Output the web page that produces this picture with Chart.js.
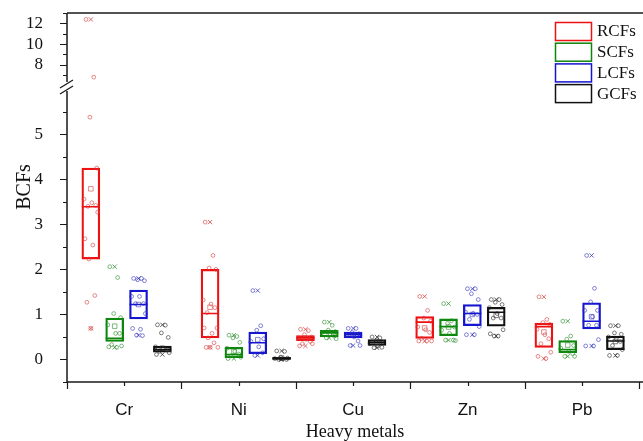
<!DOCTYPE html>
<html>
<head>
<meta charset="UTF-8" />
<title>BCFs of heavy metals</title>
<style>
  html, body { margin: 0; padding: 0; background: #fff; overflow: hidden; }
  #wrap { width: 643px; height: 441px; }
</style>
</head>
<body>
<div id="wrap"><canvas id="myCanvas"></canvas></div>
<script src="https://cdn.jsdelivr.net/npm/chart.js@4/dist/chart.umd.min.js"></script>
<script>
const metals = ["Cr", "Ni", "Cu", "Zn", "Pb"];
const seriesNames = ["RCFs", "SCFs", "LCFs", "GCFs"];

// one row per series (RCFs, SCFs, LCFs, GCFs), one value per metal
const boxLow = [
  [2.23, 0.48, 0.42, 0.47, 0.27],
  [0.40, 0.04, 0.50, 0.53, 0.15],
  [0.90, 0.13, 0.48, 0.75, 0.68],
  [0.16, 0.00, 0.31, 0.74, 0.22]
];
const boxMedian = [
  [3.39, 1.02, 0.48, 0.83, 0.73],
  [0.47, 0.11, 0.59, 0.73, 0.22],
  [1.22, 0.37, 0.55, 1.02, 0.85],
  [0.22, 0.02, 0.38, 1.05, 0.41]
];
const boxHigh = [
  [4.25, 2.00, 0.53, 0.95, 0.81],
  [0.92, 0.27, 0.65, 0.90, 0.42],
  [1.54, 0.61, 0.61, 1.22, 1.26],
  [0.30, 0.05, 0.44, 1.16, 0.52]
];
const meanValues = [
  [3.79, 1.16, 0.47, 0.70, 0.61],
  [0.74, 0.18, 0.58, 0.72, 0.32],
  [1.22, 0.44, 0.55, 1.00, 0.95],
  [0.25, 0.03, 0.38, 0.98, 0.40]
];
const minValues = [
  [0.69, 0.27, 0.30, 0.41, 0.02],
  [0.27, 0.02, 0.48, 0.43, 0.07],
  [0.54, 0.09, 0.31, 0.55, 0.30],
  [0.11, 0.00, 0.26, 0.52, 0.09]
];
const maxValues = [
  [12.38, 3.05, 0.67, 1.40, 1.39],
  [2.06, 0.54, 0.83, 1.24, 0.85],
  [1.80, 1.53, 0.69, 1.57, 2.31],
  [0.77, 0.19, 0.50, 1.33, 0.75]
];

// raw samples, per metal
const rcfPoints = [
  [12.38, 6.8, 5.38, 4.25, 3.56, 3.48, 3.42, 3.40, 3.27, 2.68, 2.54, 2.23, 1.42, 1.27, 0.69],
  [3.05, 2.31, 2.03, 2.00, 1.32, 1.23, 1.15, 1.04, 0.70, 0.70, 0.58, 0.48, 0.37, 0.27, 0.27, 0.27],
  [0.67, 0.64, 0.55, 0.50, 0.48, 0.45, 0.40, 0.35, 0.35, 0.30],
  [1.40, 1.09, 0.92, 0.85, 0.72, 0.66, 0.60, 0.47, 0.41, 0.41, 0.41],
  [1.39, 0.89, 0.82, 0.78, 0.67, 0.55, 0.46, 0.35, 0.16, 0.07, 0.02]
];
const scfPoints = [
  [2.06, 1.82, 1.02, 0.93, 0.77, 0.58, 0.58, 0.33, 0.30, 0.28, 0.27],
  [0.54, 0.51, 0.48, 0.38, 0.25, 0.18, 0.12, 0.08, 0.05, 0.02],
  [0.83, 0.76, 0.65, 0.62, 0.60, 0.57, 0.52, 0.48, 0.46],
  [1.24, 0.86, 0.80, 0.72, 0.65, 0.58, 0.43, 0.43, 0.42],
  [0.85, 0.52, 0.45, 0.31, 0.25, 0.18, 0.13, 0.07, 0.07]
];
const lcfPoints = [
  [1.80, 1.80, 1.77, 1.75, 1.40, 1.40, 1.24, 1.24, 1.02, 0.69, 0.67, 0.54, 0.53],
  [1.53, 0.75, 0.65, 0.46, 0.40, 0.28, 0.15, 0.09],
  [0.69, 0.69, 0.60, 0.57, 0.53, 0.50, 0.41, 0.31, 0.31],
  [1.57, 1.57, 1.46, 1.33, 1.05, 1.02, 1.00, 0.89, 0.73, 0.55, 0.55],
  [2.31, 1.58, 1.28, 1.09, 1.09, 0.95, 0.76, 0.76, 0.44, 0.30, 0.30]
];
const gcfPoints = [
  [0.77, 0.76, 0.59, 0.49, 0.28, 0.24, 0.21, 0.18, 0.15, 0.11],
  [0.19, 0.18, 0.05, 0.03, 0.02, 0.01, 0.00, 0.00],
  [0.50, 0.48, 0.42, 0.38, 0.35, 0.30, 0.27, 0.26],
  [1.33, 1.33, 1.27, 1.22, 1.15, 1.02, 0.92, 0.92, 0.66, 0.57, 0.52, 0.52],
  [0.75, 0.75, 0.59, 0.56, 0.50, 0.45, 0.40, 0.31, 0.22, 0.09, 0.09]
];
const allPoints = [rcfPoints, scfPoints, lcfPoints, gcfPoints];

// layout helpers
const colors = ["#ee1111", "#0b870b", "#1515d0", "#111111"];
const pointColors = ["rgba(215,60,60,0.75)", "rgba(40,140,40,0.75)", "rgba(50,50,190,0.75)", "rgba(40,40,40,0.75)"];
const breakAt = 6.05;          // lower panel top / upper panel bottom
const slotWidth = 5 / 24;      // x units between neighbouring boxes
const groupSlot = [0, 5, 9, 14, 19];
const pxPerUnit = 116.6;
const jitter = [-5, 3, -1, 6, -7, 1, 5, -3, 7, -6, 2, -2, 4, -4, 0, 8];

function boxX(m, s) {
  return 0.5 + (groupSlot[m] + s + 1) * slotWidth;
}

const datasets = [];
seriesNames.forEach((name, s) => {
  datasets.push({
    type: "bar",
    label: name,
    data: metals.map((_, m) => ({ x: boxX(m, s), y: [boxLow[s][m], boxHigh[s][m]] })),
    backgroundColor: "rgba(0,0,0,0)",
    borderColor: colors[s],
    borderWidth: 1.6,
    borderSkipped: false,
    barThickness: 18,
    grouped: false,
    yAxisID: "y",
    order: 1
  });
  datasets.push({
    type: "scatter",
    label: name + " median",
    data: metals.map((_, m) => ({ x: boxX(m, s), y: boxMedian[s][m] })),
    pointStyle: "line",
    radius: 9,
    borderColor: colors[s],
    borderWidth: 1.6,
    yAxisID: "y",
    order: 0
  });
  datasets.push({
    type: "scatter",
    label: name + " mean",
    data: metals.map((_, m) => ({ x: boxX(m, s), y: meanValues[s][m] })),
    pointStyle: "rect",
    radius: 3.2,
    borderColor: pointColors[s],
    backgroundColor: "rgba(0,0,0,0)",
    borderWidth: 0.8,
    yAxisID: "y",
    order: 0
  });
  const lower = [], upper = [];
  allPoints[s].forEach((vals, m) => {
    vals.forEach((v, i) => {
      const p = { x: boxX(m, s) + jitter[i % jitter.length] / pxPerUnit, y: v };
      (v > breakAt ? upper : lower).push(p);
    });
  });
  [["y", lower], ["y2", upper]].forEach(([axis, pts]) => {
    datasets.push({
      type: "scatter",
      label: name + " samples",
      data: pts,
      pointStyle: "circle",
      radius: 1.9,
      borderColor: pointColors[s],
      backgroundColor: "rgba(0,0,0,0)",
      borderWidth: 0.8,
      yAxisID: axis,
      order: 0
    });
  });
  const ext = [], extUp = [];
  metals.forEach((_, m) => {
    [minValues[s][m], maxValues[s][m]].forEach(v => {
      (v > breakAt ? extUp : ext).push({ x: boxX(m, s), y: v });
    });
  });
  [["y", ext], ["y2", extUp]].forEach(([axis, pts]) => {
    datasets.push({
      type: "scatter",
      label: name + " min/max",
      data: pts,
      pointStyle: "crossRot",
      radius: 3,
      borderColor: pointColors[s],
      borderWidth: 1,
      yAxisID: axis,
      order: 0
    });
  });
});

const frame = {
  id: "frame",
  beforeDatasetsDraw(chart) {
    const { ctx, chartArea: a, scales } = chart;
    const y = scales.y, y2 = scales.y2, x = scales.x;
    ctx.save();
    ctx.strokeStyle = "#1a1a1a";
    ctx.lineWidth = 1.5;
    ctx.beginPath();
    ctx.moveTo(a.left, a.top); ctx.lineTo(chart.width, a.top);
    ctx.moveTo(a.left, a.top); ctx.lineTo(a.left, a.bottom);
    ctx.lineTo(chart.width, a.bottom);
    ctx.stroke();
    ctx.lineWidth = 1.2;
    ctx.beginPath();
    for (let v = -0.5; v <= 5.5; v += 0.5) {
      const py = Math.round(y.getPixelForValue(v)) + 0.5;
      const len = Number.isInteger(v) ? 7 : 4;
      ctx.moveTo(a.left - len, py); ctx.lineTo(a.left, py);
    }
    for (let v = 7; v <= 13; v++) {
      const py = Math.round(y2.getPixelForValue(v)) + 0.5;
      const len = v % 2 === 0 ? 7 : 4;
      ctx.moveTo(a.left - len, py); ctx.lineTo(a.left, py);
    }
    for (let v = 0.5; v <= 5.5; v += 0.5) {
      const px = Math.round(x.getPixelForValue(v)) + 0.5;
      if (px > chart.width) continue;
      const len = Number.isInteger(v) ? 4 : 7;
      ctx.moveTo(px, a.bottom); ctx.lineTo(px, a.bottom + len);
    }
    ctx.stroke();
    // axis break
    const by = y.top;
    ctx.fillStyle = "#fff";
    ctx.fillRect(a.left - 3, by - 5, 6, 9);
    ctx.lineWidth = 1.3;
    ctx.beginPath();
    ctx.moveTo(a.left - 7, by + 1); ctx.lineTo(a.left + 6, by - 7);
    ctx.moveTo(a.left - 7, by + 7); ctx.lineTo(a.left + 6, by - 1);
    ctx.stroke();
    ctx.restore();
  },
  afterDraw(chart) {
    const { ctx } = chart;
    ctx.save();
    ctx.fillStyle = "#111";
    ctx.font = "20px 'Liberation Serif'";
    ctx.textAlign = "center";
    ctx.textBaseline = "middle";
    ctx.translate(25, 187);
    ctx.rotate(-Math.PI / 2);
    ctx.fillText("BCFs", 0, 0);
    ctx.restore();

    ctx.save();
    ctx.fillStyle = "#111";
    ctx.font = "18px 'Liberation Serif'";
    ctx.textAlign = "center";
    ctx.textBaseline = "middle";
    ctx.fillText("Heavy metals", 355, 432);

    // legend
    ctx.font = "17px 'Liberation Serif'";
    ctx.textAlign = "left";
    seriesNames.forEach((name, s) => {
      const top = 22 + s * 20.7;
      ctx.strokeStyle = colors[s];
      ctx.lineWidth = 1.5;
      ctx.strokeRect(555.5, top + 0.5, 36, 18);
      ctx.fillStyle = "#111";
      ctx.fillText(name, 597, top + 10);
    });
    ctx.restore();
  }
};

const yTickFont = { family: "'Liberation Serif'", size: 17 };
function fitLeft(s) {
  s.width = 67;
  s.paddingTop = 0;
  s.paddingBottom = 0;
}

new Chart(document.getElementById("myCanvas"), {
  type: "scatter",
  data: { datasets },
  options: {
    responsive: true,
    maintainAspectRatio: false,
    animation: false,
    layout: { padding: { top: 13, left: 0, right: 0, bottom: 0 } },
    plugins: { legend: { display: false }, tooltip: { enabled: false } },
    scales: {
      x: {
        type: "linear",
        offset: false,
        min: 0.5,
        max: 5.44,
        grid: { display: false, offset: false },
        border: { display: false },
        afterBuildTicks: s => { s.ticks = metals.map((_, i) => ({ value: i + 1 })); },
        afterFit: s => { s.height = 59; s.paddingLeft = 0; s.paddingRight = 0; },
        ticks: {
          autoSkip: false,
          maxRotation: 0,
          padding: 10,
          color: "#111",
          font: { family: "'Liberation Sans'", size: 17 },
          callback: v => metals[v - 1]
        }
      },
      y: {
        type: "linear",
        position: "left",
        stack: "bcf",
        stackWeight: 295,
        min: -0.5,
        max: breakAt,
        grid: { display: false },
        border: { display: false },
        afterBuildTicks: s => { s.ticks = [0, 1, 2, 3, 4, 5].map(v => ({ value: v })); },
        afterFit: fitLeft,
        ticks: { autoSkip: false, padding: 16, color: "#111", font: yTickFont }
      },
      y2: {
        type: "linear",
        position: "left",
        stack: "bcf",
        stackWeight: 74,
        min: 5.85,
        max: 13,
        grid: { display: false },
        border: { display: false },
        afterBuildTicks: s => { s.ticks = [8, 10, 12].map(v => ({ value: v })); },
        afterFit: fitLeft,
        ticks: { autoSkip: false, padding: 16, color: "#111", font: yTickFont }
      }
    }
  },
  plugins: [frame]
});
</script>
</body>
</html>
